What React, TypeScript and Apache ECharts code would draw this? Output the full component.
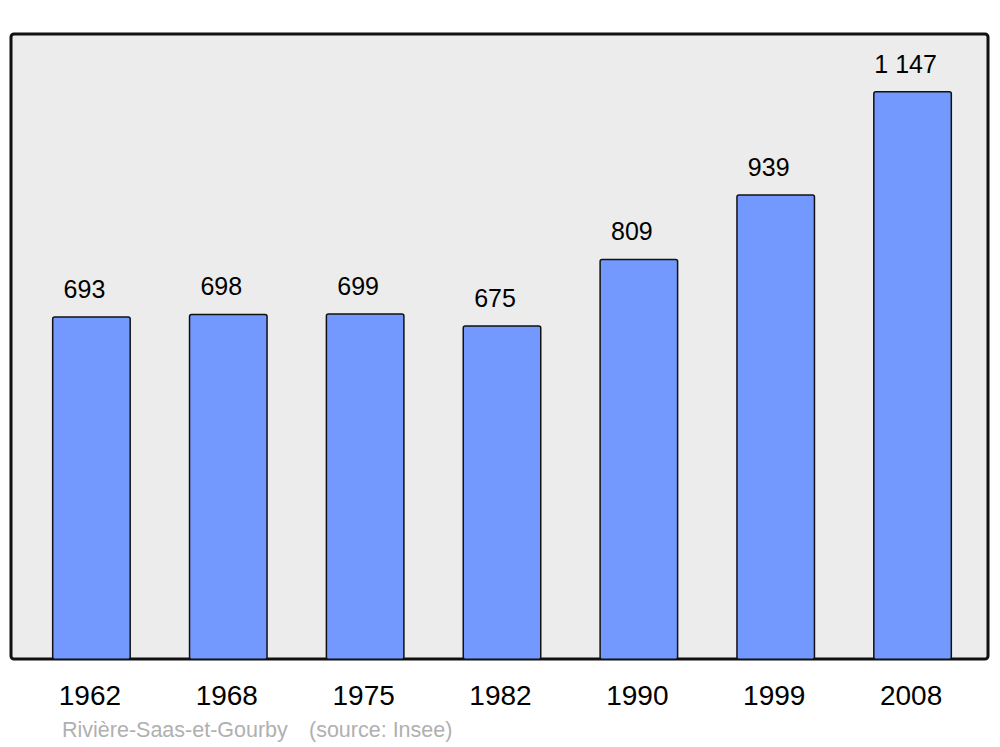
import React, { useEffect, useRef } from "react";
import * as echarts from "echarts";

const years = ["1962", "1968", "1975", "1982", "1990", "1999", "2008"];
const population = [693, 698, 699, 675, 809, 939, 1147];
const footerName = "Rivière-Saas-et-Gourby";
const footerSource = "(source: Insee)";

const fmt = (v: number) => String(v).replace(/\B(?=(\d{3})+(?!\d))/g, " ");

export default function App() {
  const ref = useRef<HTMLDivElement>(null);
  useEffect(() => {
    if (!ref.current) return;
    const chart = echarts.init(ref.current, undefined, { renderer: "svg" });
    chart.setOption({
      animation: false,
      backgroundColor: "#ffffff",
      textStyle: { fontFamily: "Liberation Sans, Arial, sans-serif" },
      grid: { left: 23, right: 19, top: 34, bottom: 87 },
      xAxis: {
        type: "category",
        data: years,
        axisLine: { show: false },
        axisTick: { show: false },
        axisLabel: {
          fontSize: 28,
          color: "#000",
          margin: 21,
          fontFamily: "Liberation Sans",
          padding: [0, 3, 0, 0],
        },
      },
      yAxis: {
        type: "value",
        min: 0,
        max: 1262,
        show: false,
        splitLine: { show: false },
      },
      graphic: [
        {
          type: "rect",
          z: 0,
          shape: { x: 11, y: 34, width: 977, height: 625, r: 3 },
          style: { fill: "#ececec", stroke: "#111", lineWidth: 3 },
        },
        {
          type: "text",
          x: 62,
          y: 730,
          style: {
            text: footerName,
            fill: "#b0b0b0",
            font: "21.5px Liberation Sans",
            verticalAlign: "middle",
          },
        },
        {
          type: "text",
          x: 309,
          y: 730,
          style: {
            text: footerSource,
            fill: "#b0b0b0",
            font: "21.5px Liberation Sans",
            verticalAlign: "middle",
          },
        },
      ],
      series: [
        {
          type: "bar",
          data: population,
          barWidth: 79,
          z: 5,
          itemStyle: { color: "#7399ff", borderColor: "#111", borderWidth: 1.5, borderRadius: 2 },
          label: {
            show: true,
            position: "top",
            distance: 15,
            offset: [-7, 0],
            fontSize: 25,
            color: "#000",
            fontFamily: "Liberation Sans",
            formatter: (p: any) => fmt(p.value),
          },
        },
      ],
    });
    return () => chart.dispose();
  }, []);
  return (
    <div
      ref={ref}
      style={{ position: "fixed", left: 0, top: 0, width: 1000, height: 747 }}
    />
  );
}
